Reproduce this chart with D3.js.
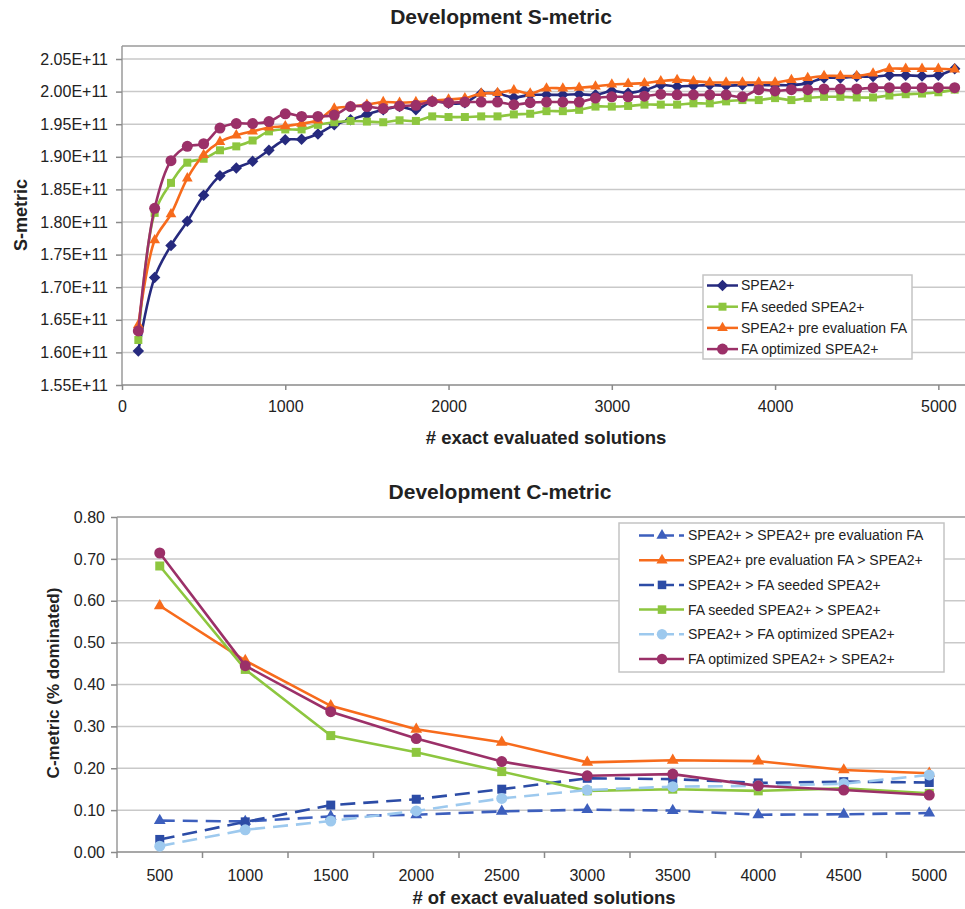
<!DOCTYPE html>
<html>
<head>
<meta charset="utf-8">
<script src="https://cdn.jsdelivr.net/npm/d3@7"></script>
<style>
  body { margin: 0; background: #fff; }
  text { font-family: 'Liberation Sans', Arial, sans-serif; fill: #222; }
</style>
</head>
<body>
<div id="chart"></div>
<script>
// ---- S-metric data (values in units of 1E+11) ----
const evalCounts = [100, 200, 300, 400, 500, 600, 700, 800, 900, 1000,
  1100, 1200, 1300, 1400, 1500, 1600, 1700, 1800, 1900, 2000,
  2100, 2200, 2300, 2400, 2500, 2600, 2700, 2800, 2900, 3000,
  3100, 3200, 3300, 3400, 3500, 3600, 3700, 3800, 3900, 4000,
  4100, 4200, 4300, 4400, 4500, 4600, 4700, 4800, 4900, 5000, 5100]

const sSpea2 = [1.602, 1.715, 1.764, 1.801, 1.841, 1.871, 1.883, 1.893, 1.910, 1.926,
  1.927, 1.935, 1.949, 1.957, 1.965, 1.972, 1.977, 1.972, 1.985, 1.982,
  1.983, 1.997, 1.997, 1.991, 1.995, 1.995, 1.995, 1.996, 1.995, 2.001,
  1.998, 2.002, 2.010, 2.008, 2.009, 2.010, 2.009, 2.010, 2.010, 2.010,
  2.010, 2.013, 2.021, 2.021, 2.023, 2.023, 2.025, 2.025, 2.024, 2.025, 2.035]

const sFaSeeded = [1.619, 1.814, 1.860, 1.891, 1.897, 1.910, 1.916, 1.925, 1.939, 1.942,
  1.942, 1.949, 1.953, 1.955, 1.954, 1.953, 1.956, 1.955, 1.962, 1.961,
  1.961, 1.962, 1.962, 1.965, 1.966, 1.970, 1.970, 1.972, 1.977, 1.977,
  1.978, 1.980, 1.980, 1.980, 1.982, 1.982, 1.985, 1.987, 1.987, 1.990,
  1.987, 1.990, 1.992, 1.992, 1.991, 1.991, 1.994, 1.996, 1.997, 1.999, 2.003]

const sPreEval = [1.642, 1.772, 1.812, 1.867, 1.903, 1.923, 1.933, 1.939, 1.945, 1.947,
  1.951, 1.956, 1.974, 1.977, 1.980, 1.984, 1.983, 1.984, 1.986, 1.988,
  1.990, 1.997, 1.998, 2.002, 1.997, 2.005, 2.005, 2.006, 2.008, 2.011,
  2.012, 2.013, 2.016, 2.018, 2.016, 2.014, 2.014, 2.014, 2.014, 2.014,
  2.018, 2.021, 2.024, 2.024, 2.024, 2.028, 2.035, 2.035, 2.035, 2.035, 2.034]

const sFaOptimized = [1.633, 1.821, 1.894, 1.916, 1.920, 1.944, 1.951, 1.951, 1.954, 1.966,
  1.962, 1.962, 1.964, 1.977, 1.977, 1.974, 1.978, 1.979, 1.985, 1.983,
  1.984, 1.984, 1.984, 1.980, 1.983, 1.984, 1.984, 1.984, 1.990, 1.992,
  1.992, 1.993, 1.996, 1.995, 1.995, 1.995, 1.995, 1.992, 2.003, 2.001,
  2.003, 2.003, 2.004, 2.004, 2.004, 2.006, 2.006, 2.006, 2.006, 2.006, 2.006]

const sTicksY = [1.55, 1.60, 1.65, 1.70, 1.75, 1.80, 1.85, 1.90, 1.95, 2.00, 2.05]
const sTicksX = [0, 1000, 2000, 3000, 4000, 5000]

// ---- C-metric data ----
const cCategories = ['500', '1000', '1500', '2000', '2500', '3000', '3500', '4000', '4500', '5000']
const cSpeaOverPre = [0.075, 0.073, 0.085, 0.089, 0.097, 0.101, 0.099, 0.089, 0.090, 0.093]
const cPreOverSpea = [0.588, 0.457, 0.349, 0.293, 0.262, 0.214, 0.219, 0.217, 0.196, 0.188]
const cSpeaOverSeeded = [0.030, 0.072, 0.112, 0.126, 0.150, 0.176, 0.174, 0.165, 0.168, 0.166]
const cSeededOverSpea = [0.683, 0.436, 0.278, 0.238, 0.192, 0.146, 0.150, 0.146, 0.152, 0.140]
const cSpeaOverOptimized = [0.014, 0.053, 0.074, 0.098, 0.128, 0.148, 0.156, 0.158, 0.163, 0.184]
const cOptimizedOverSpea = [0.714, 0.445, 0.335, 0.271, 0.216, 0.182, 0.186, 0.158, 0.148, 0.136]
const cTicksY = [0, 0.1, 0.2, 0.3, 0.4, 0.5, 0.6, 0.7, 0.8]

const NAVY = '#262a7e'
const GREEN = '#8dc63f'
const ORANGE = '#f76b1c'
const PURPLE = '#9b3068'
const MIDBLUE = '#3d5fbd'
const DARKBLUE = '#2c4ca6'
const LIGHTBLUE = '#9dc9ee'

// square rotated 45 degrees (Excel style diamond)
const diamond = {
  draw(ctx, size) {
    const r = Math.sqrt(size / 2)
    ctx.moveTo(0, -r)
    ctx.lineTo(r, 0)
    ctx.lineTo(0, r)
    ctx.lineTo(-r, 0)
    ctx.closePath()
  },
}

const svg = d3.select('#chart').append('svg')
  .attr('width', 965).attr('height', 909)
  .style('background', '#fff')

function drawMarker(g, type, size, color, x, y) {
  g.append('path')
    .attr('d', d3.symbol().type(type).size(size)())
    .attr('transform', `translate(${x},${y})`)
    .attr('fill', color)
}

// ================= S-metric chart =================
{
  const x = d3.scaleLinear().domain([0, 5200]).range([122, 971])
  const y = d3.scaleLinear().domain([1.55, 2.05]).range([385, 59])
  const g = svg.append('g')

  g.append('text').attr('x', 501).attr('y', 24).attr('text-anchor', 'middle')
    .attr('font-size', 21).attr('font-weight', 'bold').text('Development S-metric')

  // grid
  g.selectAll('.grid').data(sTicksY.slice(1)).join('line')
    .attr('x1', 122).attr('x2', 965).attr('y1', d => y(d)).attr('y2', d => y(d))
    .attr('stroke', '#c9c9c9').attr('stroke-width', 1.5)
  g.append('line').attr('x1', 122).attr('x2', 965).attr('y1', 46).attr('y2', 46)
    .attr('stroke', '#9a9a9a').attr('stroke-width', 1.5)
  g.append('line').attr('x1', 122).attr('x2', 122).attr('y1', 46).attr('y2', 385)
    .attr('stroke', '#9a9a9a').attr('stroke-width', 1.5)

  const xAxis = g.append('g').attr('transform', 'translate(0,385)')
    .call(d3.axisBottom(x).tickValues(sTicksX).tickSize(5).tickSizeOuter(0).tickFormat(d3.format('d')))
  xAxis.select('.domain').attr('stroke', '#8a8a8a').attr('stroke-width', 1.5).attr('d', 'M122,0H965')
  xAxis.selectAll('.tick line').attr('stroke', '#8a8a8a').attr('stroke-width', 1.5)
  xAxis.selectAll('.tick text').attr('font-size', 16).attr('dy', '0.65em').attr('y', 17)
    .attr('font-family', 'Liberation Sans, Arial, sans-serif').attr('fill', '#222')

  const yAxis = g.append('g').attr('transform', 'translate(122,0)')
    .call(d3.axisLeft(y).tickValues(sTicksY).tickSize(6).tickSizeOuter(0)
      .tickFormat(d => d3.format('.2f')(d) + 'E+11'))
  yAxis.select('.domain').remove()
  yAxis.selectAll('.tick line').attr('stroke', '#8a8a8a').attr('stroke-width', 1.5)
  yAxis.selectAll('.tick text').attr('font-size', 16).attr('x', -14)
    .attr('font-family', 'Liberation Sans, Arial, sans-serif').attr('fill', '#222')

  g.append('text').attr('x', 546).attr('y', 444).attr('text-anchor', 'middle')
    .attr('font-size', 18.5).attr('font-weight', 'bold').text('# exact evaluated solutions')
  g.append('text').attr('transform', 'translate(27,215) rotate(-90)').attr('text-anchor', 'middle')
    .attr('font-size', 18).attr('font-weight', 'bold').text('S-metric')

  const series = [
    { name: 'SPEA2+', values: sSpea2, color: NAVY, type: diamond, size: 66 },
    { name: 'FA seeded SPEA2+', values: sFaSeeded, color: GREEN, type: d3.symbolSquare, size: 64 },
    { name: 'SPEA2+ pre evaluation FA', values: sPreEval, color: ORANGE, type: d3.symbolTriangle, size: 50 },
    { name: 'FA optimized SPEA2+', values: sFaOptimized, color: PURPLE, type: d3.symbolCircle, size: 95 },
  ]

  const line = d3.line().x((d, i) => x(evalCounts[i])).y(d => y(d)).curve(d3.curveCatmullRom.alpha(0.5))

  series.forEach(s => {
    g.append('path').attr('d', line(s.values)).attr('fill', 'none')
      .attr('stroke', s.color).attr('stroke-width', 2.6)
    s.values.forEach((v, i) => drawMarker(g, s.type, s.size, s.color, x(evalCounts[i]), y(v)))
  })

  // legend
  const lg = g.append('g')
  lg.append('rect').attr('x', 703).attr('y', 275).attr('width', 209).attr('height', 84)
    .attr('fill', '#fff').attr('stroke', '#c4c4c4').attr('stroke-width', 1.5)
  series.forEach((s, i) => {
    const yy = 285.5 + i * 21.2
    lg.append('line').attr('x1', 707).attr('x2', 738).attr('y1', yy).attr('y2', yy)
      .attr('stroke', s.color).attr('stroke-width', 2.5)
    drawMarker(lg, s.type, s.size, s.color, 722.5, yy)
    lg.append('text').attr('x', 741).attr('y', yy).attr('dy', '0.35em')
      .attr('font-size', 14).text(s.name)
  })
}

// ================= C-metric chart =================
{
  const x = d3.scaleBand().domain(cCategories).range([117, 972])
  const y = d3.scaleLinear().domain([0, 0.8]).range([852, 517])
  const g = svg.append('g')
  const cx = d => x(d) + x.bandwidth() / 2

  g.append('text').attr('x', 500).attr('y', 499).attr('text-anchor', 'middle')
    .attr('font-size', 21).attr('font-weight', 'bold').text('Development C-metric')

  g.selectAll('.grid').data(cTicksY.slice(1)).join('line')
    .attr('x1', 117).attr('x2', 965).attr('y1', d => y(d)).attr('y2', d => y(d))
    .attr('stroke', d => d === 0.8 ? '#9a9a9a' : '#c9c9c9').attr('stroke-width', 1.5)
  g.append('line').attr('x1', 117).attr('x2', 117).attr('y1', 517).attr('y2', 852)
    .attr('stroke', '#9a9a9a').attr('stroke-width', 1.5)

  const xAxis = g.append('g').attr('transform', 'translate(0,852)')
    .call(d3.axisBottom(x).tickSize(0).tickSizeOuter(0))
  xAxis.select('.domain').attr('stroke', '#8a8a8a').attr('stroke-width', 1.5).attr('d', 'M117,0H965')
  xAxis.selectAll('.tick text').attr('font-size', 16).attr('dy', '0.35em').attr('y', 23)
    .attr('font-family', 'Liberation Sans, Arial, sans-serif').attr('fill', '#222')
  // category boundary ticks
  g.selectAll('.btick').data(cCategories).join('line')
    .attr('x1', d => x(d)).attr('x2', d => x(d)).attr('y1', 852).attr('y2', 858)
    .attr('stroke', '#8a8a8a').attr('stroke-width', 1.5)

  const yAxis = g.append('g').attr('transform', 'translate(117,0)')
    .call(d3.axisLeft(y).tickValues(cTicksY).tickSize(6).tickSizeOuter(0).tickFormat(d3.format('.2f')))
  yAxis.select('.domain').remove()
  yAxis.selectAll('.tick line').attr('stroke', '#8a8a8a').attr('stroke-width', 1.5)
  yAxis.selectAll('.tick text').attr('font-size', 16).attr('x', -12)
    .attr('font-family', 'Liberation Sans, Arial, sans-serif').attr('fill', '#222')

  g.append('text').attr('x', 544).attr('y', 904).attr('text-anchor', 'middle')
    .attr('font-size', 18.5).attr('font-weight', 'bold').text('# of exact evaluated solutions')
  g.append('text').attr('transform', 'translate(59,683) rotate(-90)').attr('text-anchor', 'middle')
    .attr('font-size', 17).attr('font-weight', 'bold').text('C-metric (% dominated)')

  const series = [
    { name: 'SPEA2+ > SPEA2+ pre evaluation FA', values: cSpeaOverPre, color: MIDBLUE, type: d3.symbolTriangle, size: 60, dash: '15,8' },
    { name: 'SPEA2+ pre evaluation FA > SPEA2+', values: cPreOverSpea, color: ORANGE, type: d3.symbolTriangle, size: 60 },
    { name: 'SPEA2+ > FA seeded SPEA2+', values: cSpeaOverSeeded, color: DARKBLUE, type: d3.symbolSquare, size: 81, dash: '15,8' },
    { name: 'FA seeded SPEA2+ > SPEA2+', values: cSeededOverSpea, color: GREEN, type: d3.symbolSquare, size: 81 },
    { name: 'SPEA2+ > FA optimized SPEA2+', values: cSpeaOverOptimized, color: LIGHTBLUE, type: d3.symbolCircle, size: 95, dash: '15,8' },
    { name: 'FA optimized SPEA2+ > SPEA2+', values: cOptimizedOverSpea, color: PURPLE, type: d3.symbolCircle, size: 95 },
  ]

  const line = d3.line().x((d, i) => cx(cCategories[i])).y(d => y(d))

  series.forEach(s => {
    g.append('path').attr('d', line(s.values)).attr('fill', 'none')
      .attr('stroke', s.color).attr('stroke-width', 2.6)
      .attr('stroke-dasharray', s.dash || null)
    s.values.forEach((v, i) => drawMarker(g, s.type, s.size, s.color, cx(cCategories[i]), y(v)))
  })

  const lg = g.append('g')
  lg.append('rect').attr('x', 619).attr('y', 523).attr('width', 325).attr('height', 149)
    .attr('fill', '#fff').attr('stroke', '#c4c4c4').attr('stroke-width', 1.5)
  series.forEach((s, i) => {
    const yy = 535.5 + i * 24.7
    lg.append('line').attr('x1', 639).attr('x2', 684).attr('y1', yy).attr('y2', yy)
      .attr('stroke', s.color).attr('stroke-width', 2.5)
      .attr('stroke-dasharray', s.dash ? '15,5' : null)
    drawMarker(lg, s.type, s.size * 0.9, s.color, 662, yy)
    lg.append('text').attr('x', 688).attr('y', yy).attr('dy', '0.35em')
      .attr('font-size', 14).text(s.name)
  })
}
</script>
</body>
</html>
